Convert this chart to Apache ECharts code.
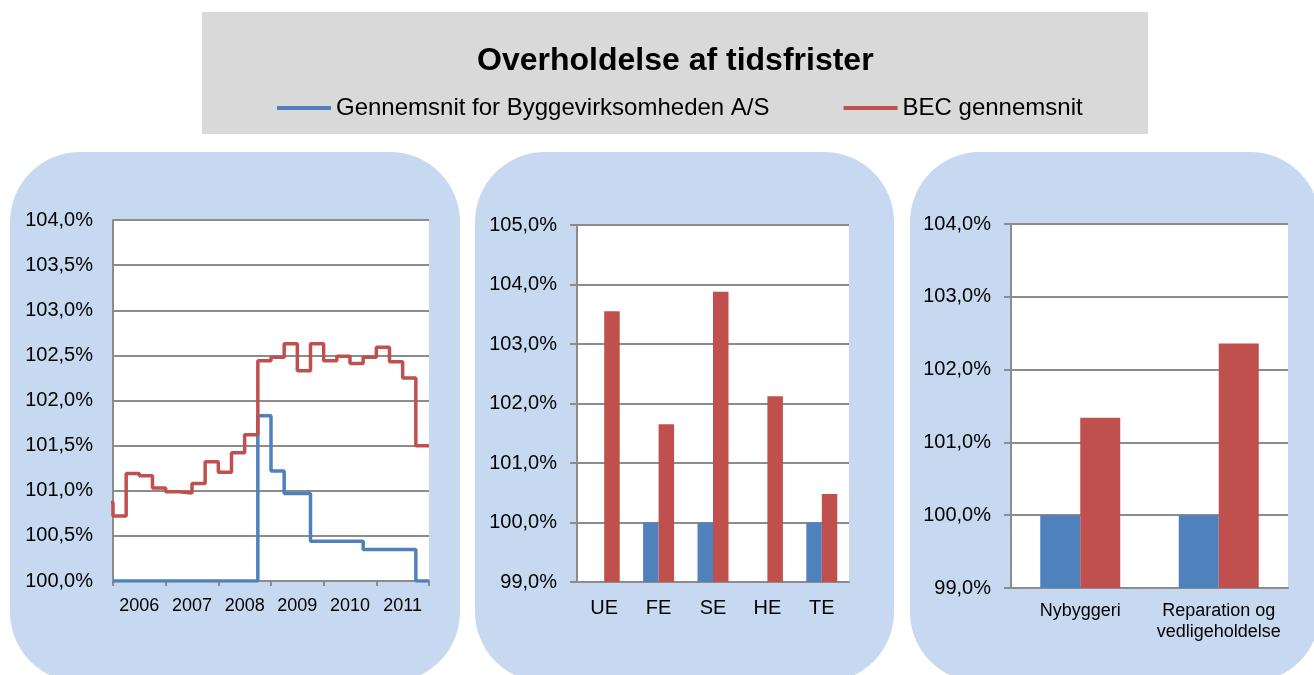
<!DOCTYPE html>
<html lang="da">
<head>
	<meta charset="UTF-8">
	<title>Overholdelse af tidsfrister</title>
	<script src="https://cdn.jsdelivr.net/npm/echarts@6/dist/echarts.min.js"></script>
	<style>
		html, body { margin: 0; padding: 0; background: #fff; }
		#chart { width: 1314px; height: 675px; }
	</style>
</head>
<body>
	<div id="chart"></div>
<script>
// venstre diagram: kvartalsvise værdier 2006 K1 .. 2011 K4
var years = ['2006', '2007', '2008', '2009', '2010', '2011'];
var byggeQuarterly = [
    100.0, 100.0, 100.0, 100.0,
    100.0, 100.0, 100.0, 100.0,
    100.0, 100.0, 100.0, 101.83,
    101.22, 100.97, 100.97, 100.44,
    100.44, 100.44, 100.44, 100.35,
    100.35, 100.35, 100.35, 100.0
];
var becQuarterly = [
    100.72, 101.19, 101.165, 101.03,
    100.99, 100.975, 101.08, 101.32,
    101.205, 101.42, 101.62, 102.44,
    102.48, 102.63, 102.33, 102.63,
    102.44, 102.49, 102.41, 102.48,
    102.59, 102.43, 102.25, 101.50
];
var becBefore = 100.87; // kvartalet før 2006, kun kanten ses

// midterste diagram
var entrepriser = ['UE', 'FE', 'SE', 'HE', 'TE'];
var byggeEntreprise = [null, 100.0, 100.0, null, 100.0];
var becEntreprise = [103.55, 101.65, 103.88, 102.12, 100.48];

// højre diagram
var byggetyper = ['Nybyggeri', 'Reparation og\nvedligeholdelse'];
var byggeType = [100.0, 100.0];
var becType = [101.34, 102.36];

var NAME_A = 'Gennemsnit for Byggevirksomheden A/S';
var NAME_B = 'BEC gennemsnit';
var BLUE = '#4f81bd';
var RED = '#c0504d';
var GRID_GREY = '#8c8c8c';
var FONT = 'Liberation Sans';

function stepData(values, before) {
    var d = [];
    if (before != null) d.push([-1, before]);
    values.forEach(function (v, i) { d.push([i, v]); });
    d.push([values.length, values[values.length - 1]]);
    return d;
}

function pct(v) {
    return v.toFixed(1).replace('.', ',') + '%';
}

function yAxisFor(grid, min, max, interval, ticks) {
    return {
        type: 'value', gridIndex: grid, min: min, max: max, interval: interval,
        axisLine: { show: true, lineStyle: { color: GRID_GREY, width: 2 } },
        axisTick: { show: ticks, length: 7, lineStyle: { color: GRID_GREY, width: 2 } },
        splitLine: { show: true, lineStyle: { color: GRID_GREY, width: 2 } },
        axisLabel: { formatter: pct, color: '#000', fontSize: 20, fontFamily: FONT, margin: 20 }
    };
}

var myChart = echarts.init(document.getElementById('chart'), null, { renderer: 'canvas' });

var option = {
    animation: false,
    backgroundColor: '#fff',
    graphic: [
        { type: 'rect', shape: { x: 202, y: 12, width: 946, height: 122 }, style: { fill: '#d9d9d9' }, z: -10 },
        { type: 'rect', shape: { x: 10, y: 152, width: 450, height: 530, r: 70 }, style: { fill: '#c6d9f1' }, z: -10 },
        { type: 'rect', shape: { x: 475, y: 152, width: 419, height: 530, r: 70 }, style: { fill: '#c6d9f1' }, z: -10 },
        { type: 'rect', shape: { x: 910, y: 152, width: 410, height: 530, r: 70 }, style: { fill: '#c6d9f1' }, z: -10 }
    ],
    title: {
        text: 'Overholdelse af tidsfrister',
        left: 477, top: 45, padding: 0,
        textStyle: { fontSize: 32, fontWeight: 'bold', color: '#000', fontFamily: FONT }
    },
    legend: {
        data: [NAME_A, NAME_B],
        left: 277, top: 96, padding: 0,
        icon: 'rect', itemWidth: 54, itemHeight: 4, itemGap: 74,
        textStyle: { fontSize: 24, color: '#000', fontFamily: FONT, padding: [0, 0, 0, 0] }
    },
    grid: [
        { left: 113, top: 220, width: 316, height: 361, show: true, backgroundColor: '#fff', borderWidth: 0 },
        { left: 577, top: 225, width: 272, height: 357, show: true, backgroundColor: '#fff', borderWidth: 0 },
        { left: 1011, top: 224, width: 277, height: 364, show: true, backgroundColor: '#fff', borderWidth: 0 }
    ],
    xAxis: [
        {
            type: 'value', gridIndex: 0, min: 0, max: 24, interval: 4,
            axisLine: { show: true, lineStyle: { color: GRID_GREY, width: 2 } },
            axisTick: { show: true, length: 5, lineStyle: { color: GRID_GREY, width: 2 } },
            axisLabel: { show: false },
            splitLine: { show: false }
        },
        {
            type: 'category', gridIndex: 0, data: years, position: 'bottom', boundaryGap: true,
            axisLine: { show: false }, axisTick: { show: false },
            axisLabel: { color: '#000', fontSize: 18, fontFamily: FONT, margin: 16 }
        },
        {
            type: 'category', gridIndex: 1, data: entrepriser,
            axisLine: { show: true, lineStyle: { color: GRID_GREY, width: 2 } },
            axisTick: { show: false },
            axisLabel: { color: '#000', fontSize: 20, fontFamily: FONT, margin: 16 }
        },
        {
            type: 'category', gridIndex: 2, data: byggetyper,
            axisLine: { show: true, lineStyle: { color: GRID_GREY, width: 2 } },
            axisTick: { show: false },
            axisLabel: { interval: 0, color: '#000', fontSize: 18, lineHeight: 21, fontFamily: FONT, margin: 13 }
        }
    ],
    yAxis: [
        yAxisFor(0, 100, 104, 0.5, false),
        yAxisFor(1, 99, 105, 1, true),
        yAxisFor(2, 99, 104, 1, true)
    ],
    series: [
        {
            name: NAME_A, type: 'line', xAxisIndex: 0, yAxisIndex: 0, step: 'end',
            data: stepData(byggeQuarterly), showSymbol: false, clip: true,
            lineStyle: { color: BLUE, width: 3.5 }, itemStyle: { color: BLUE }
        },
        {
            name: NAME_B, type: 'line', xAxisIndex: 0, yAxisIndex: 0, step: 'end',
            data: stepData(becQuarterly, becBefore), showSymbol: false, clip: true,
            lineStyle: { color: RED, width: 3.5 }, itemStyle: { color: RED }
        },
        {
            name: NAME_A, type: 'bar', xAxisIndex: 2, yAxisIndex: 1,
            data: byggeEntreprise, barWidth: 15.5, barGap: 0, itemStyle: { color: BLUE }
        },
        {
            name: NAME_B, type: 'bar', xAxisIndex: 2, yAxisIndex: 1,
            data: becEntreprise, barWidth: 15.5, barGap: 0, itemStyle: { color: RED }
        },
        {
            name: NAME_A, type: 'bar', xAxisIndex: 3, yAxisIndex: 2,
            data: byggeType, barWidth: 40, barGap: 0, itemStyle: { color: BLUE }
        },
        {
            name: NAME_B, type: 'bar', xAxisIndex: 3, yAxisIndex: 2,
            data: becType, barWidth: 40, barGap: 0, itemStyle: { color: RED }
        }
    ]
};

myChart.setOption(option);
</script>
</body>
</html>
